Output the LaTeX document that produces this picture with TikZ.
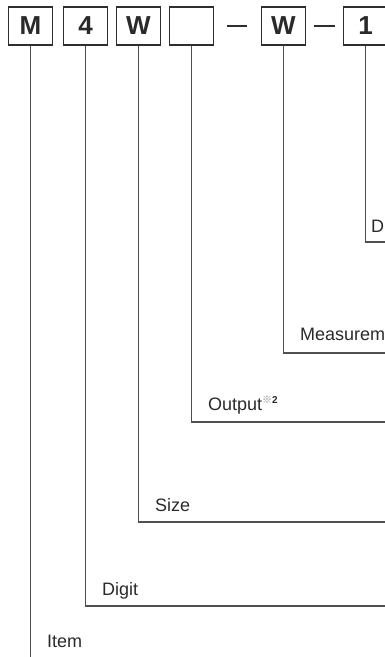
\documentclass[tikz,border=0pt]{standalone}
\usepackage{fontspec}
\setmainfont{Liberation Sans}
\newfontfamily\cjkfont{Noto Sans CJK JP}
\definecolor{boxc}{HTML}{2E2E2E}
\definecolor{linec}{HTML}{505050}
\definecolor{txtc}{HTML}{2A2A2A}
\definecolor{notec}{HTML}{8A8A8A}
\begin{document}
\begin{tikzpicture}[x=1pt,y=-1pt,
  codebox/.style={draw=boxc,line width=1.3pt,minimum width=44pt,minimum height=38pt,inner sep=0pt,
    font=\fontsize{26}{26}\selectfont\bfseries,text=txtc},
  lead/.style={draw=linec,line width=1.4pt},
  dashmark/.style={draw=boxc,line width=2pt},
  lbl/.style={anchor=base west,inner sep=0pt,font=\fontsize{18}{18}\selectfont,text=txtc}]
\useasboundingbox (0,0) rectangle (385,657);
% code boxes
\node[codebox] (b1) at (30.5,26) {M};
\node[codebox] (b2) at (85.5,26) {4};
\node[codebox] (b3) at (138.5,26) {W};
\node[codebox] (b4) at (191.5,26) {};
\node[codebox] (b5) at (283.5,26) {W};
\node[codebox] (b6) at (365.5,26) {1};
% dashes
\coordinate (d1a) at (227,25.5); \coordinate (d1b) at (247,25.5);
\coordinate (d2a) at (314,25.5); \coordinate (d2b) at (335,25.5);
\draw[dashmark] (d1a) -- (d1b);
\draw[dashmark] (d2a) -- (d2b);
% right ends of leader lines
\coordinate (e6) at (385,242);
\coordinate (e5) at (385,353);
\coordinate (e4) at (385,422);
\coordinate (e3) at (385,522);
\coordinate (e2) at (385,606);
\coordinate (e1) at (30.5,657);
% leader lines
\draw[lead] (b6.south) |- (e6);
\draw[lead] (b5.south) |- (e5);
\draw[lead] (b4.south) |- (e4);
\draw[lead] (b3.south) |- (e3);
\draw[lead] (b2.south) |- (e2);
\draw[lead] (b1.south) -- (e1);
% labels
\node[lbl] (l6) at (371,232) {D};
\node[lbl] (l5) at (300,340) {Measurem};
\node[lbl] (l4) at (208,410) {Output\raisebox{7pt}{\fontsize{10}{10}\selectfont{\cjkfont\color{notec}※}\bfseries 2}};
\node[lbl] (l3) at (155,511) {Size};
\node[lbl] (l2) at (102,595) {Digit};
\node[lbl] (l1) at (47,647) {Item};
\end{tikzpicture}
\end{document}
